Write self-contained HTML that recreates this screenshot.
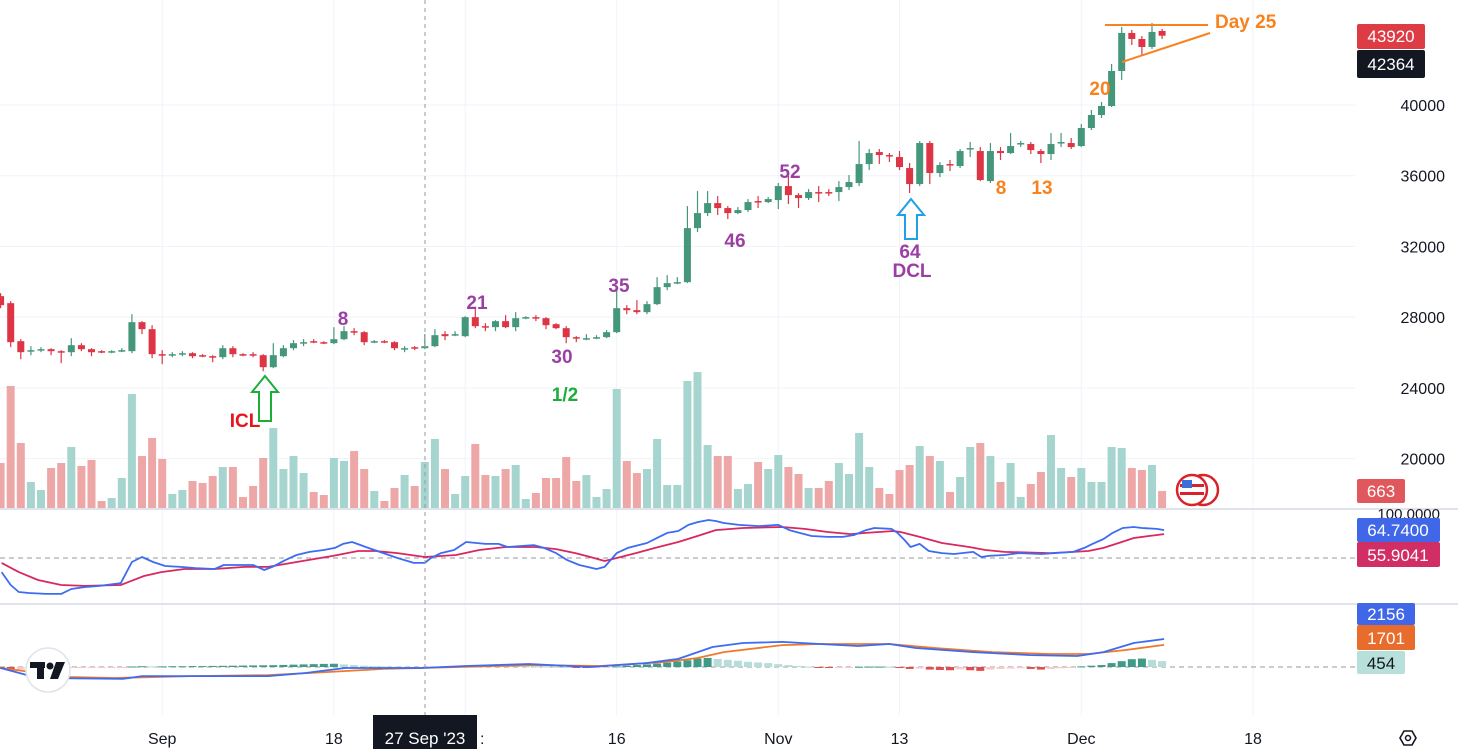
<!DOCTYPE html>
<html><head><meta charset="utf-8"><style>
html,body{margin:0;padding:0;background:#fff;}
svg{display:block;font-family:"Liberation Sans",sans-serif;}
.ann{font-weight:bold;font-size:19px;}
.ax{font-size:16px;fill:#131722;}
</style></head><body>
<svg id="chart" width="1458" height="749" viewBox="0 0 1458 749" xmlns="http://www.w3.org/2000/svg">
<g id="grid"></g>
<g id="vol"></g>
<g id="candles"></g>
<g id="rsi"></g>
<g id="macd"></g>
<g id="axes"></g>

<line x1="425" y1="0" x2="425" y2="715" stroke="#9598a1" stroke-dasharray="4,4" stroke-width="1"/>

<!-- annotations -->
<g>
<text class="ann" x="343" y="325" fill="#9b3fa5" text-anchor="middle">8</text>
<text class="ann" x="477" y="309" fill="#9b3fa5" text-anchor="middle">21</text>
<text class="ann" x="562" y="363" fill="#9b3fa5" text-anchor="middle">30</text>
<text class="ann" x="619" y="292" fill="#9b3fa5" text-anchor="middle">35</text>
<text class="ann" x="735" y="247" fill="#9b3fa5" text-anchor="middle">46</text>
<text class="ann" x="790" y="178" fill="#9b3fa5" text-anchor="middle">52</text>
<text class="ann" x="910" y="258" fill="#9b3fa5" text-anchor="middle">64</text>
<text class="ann" x="912" y="277" fill="#9b3fa5" text-anchor="middle">DCL</text>
<text class="ann" x="565" y="401" fill="#1fad3a" text-anchor="middle">1/2</text>
<text class="ann" x="245" y="427" fill="#e8131b" text-anchor="middle">ICL</text>
<text class="ann" x="1001" y="194" fill="#f7821e" text-anchor="middle">8</text>
<text class="ann" x="1042" y="194" fill="#f7821e" text-anchor="middle">13</text>
<text class="ann" x="1100" y="95" fill="#f7821e" text-anchor="middle">20</text>
<text class="ann" x="1215" y="28" fill="#f7821e">Day 25</text>
<line x1="1105" y1="25" x2="1208" y2="25" stroke="#f7821e" stroke-width="2"/>
<line x1="1122" y1="62" x2="1210" y2="33" stroke="#f7821e" stroke-width="2"/>
<path d="M265,376 L278,392 L271,392 L271,421 L259,421 L259,392 L252,392 Z" fill="none" stroke="#1fad3a" stroke-width="2"/>
<path d="M911,199 L924,215 L917,215 L917,239 L905,239 L905,215 L898,215 Z" fill="none" stroke="#1ea2e6" stroke-width="2"/>
</g>

<!-- flag icon -->
<g>
<circle cx="1203" cy="490" r="15" fill="#fff" stroke="#d8232a" stroke-width="2.5"/>
<circle cx="1192" cy="490" r="15" fill="#fff" stroke="#d8232a" stroke-width="2.5"/>
<rect x="1180" y="484" width="24" height="3" fill="#d8232a"/>
<rect x="1180" y="492" width="24" height="3" fill="#d8232a"/>
<rect x="1182" y="480" width="10" height="8" fill="#3d6fd9"/>
</g>

<!-- TV logo -->
<g>
<circle cx="48" cy="670" r="22" fill="#fff" stroke="#e0e3eb" stroke-width="1.5"/>
<rect x="30" y="662" width="15" height="6" fill="#131722"/>
<rect x="37" y="662" width="7" height="17" fill="#131722"/>
<circle cx="50" cy="666" r="3.5" fill="#131722"/>
<path d="M56,662 L65,662 L58,679 L50,679 Z" fill="#131722"/>
</g>

<!-- price labels -->
<g>
<rect x="1357" y="24" width="68" height="25" rx="2" fill="#dd3c45"/>
<text x="1391" y="42" fill="#fff" font-size="17" text-anchor="middle">43920</text>
<rect x="1357" y="50" width="68" height="28" rx="2" fill="#131722"/>
<text x="1391" y="70" fill="#fff" font-size="17" text-anchor="middle">42364</text>
<rect x="1357" y="479" width="48" height="24" rx="2" fill="#e0575c"/>
<text x="1381" y="497" fill="#fff" font-size="17" text-anchor="middle">663</text>
<text x="1440" y="519" fill="#131722" font-size="15" text-anchor="end">100.0000</text>
<rect x="1357" y="518" width="83" height="24" rx="2" fill="#3f67e8"/>
<text x="1398" y="536" fill="#fff" font-size="17" text-anchor="middle">64.7400</text>
<rect x="1357" y="542" width="83" height="25" rx="2" fill="#d02e65"/>
<text x="1398" y="561" fill="#fff" font-size="17" text-anchor="middle">55.9041</text>
<rect x="1357" y="603" width="58" height="22" rx="2" fill="#3f67e8"/>
<text x="1386" y="620" fill="#fff" font-size="17" text-anchor="middle">2156</text>
<rect x="1357" y="625" width="58" height="25" rx="2" fill="#e86c2c"/>
<text x="1386" y="644" fill="#fff" font-size="17" text-anchor="middle">1701</text>
<rect x="1357" y="651" width="48" height="23" rx="2" fill="#b8e0db"/>
<text x="1381" y="669" fill="#131722" font-size="17" text-anchor="middle">454</text>
</g>

<!-- date label -->
<rect x="373" y="715" width="104" height="34" fill="#131722"/>
<text x="425" y="744" fill="#fff" font-size="17" text-anchor="middle">27 Sep '23</text>
<text x="480" y="744" fill="#131722" font-size="16">:</text>
<path d="M1400,738 l4,-7 h8 l4,7 l-4,7 h-8 z" fill="none" stroke="#131722" stroke-width="1.6"/>
<circle cx="1408" cy="738" r="2.5" fill="none" stroke="#131722" stroke-width="1.5"/>
</svg>
<script>
const NS="http://www.w3.org/2000/svg";
const open=[29189,28792,26642,26076,26132,26189,26076,26019,26415,26189,26076,26019,26076,26076,27717,27321,25906,25849,25906,25962,25849,25793,25736,26245,25906,25906,25849,25170,25793,26245,26528,26642,26585,26528,26755,27208,27151,26585,26642,26585,26189,26302,26245,26359,27038,26981,26925,28000,27490,27434,27774,27434,27943,28000,27943,27604,27377,26868,26755,26811,26868,27151,28509,28396,28283,28736,29698,29924,29981,33037,33886,34452,34170,33886,34057,34566,34509,34622,35415,34905,34735,35075,35075,35075,35358,35585,36660,37339,37169,37056,36434,35528,37849,36151,36660,36547,37509,37396,35698,37396,37282,37792,37792,37396,37226,37849,37849,37679,38698,39434,39943,41924,44075,43735,43283,44188];
const close=[28679,26585,26019,26132,26189,26076,26019,26415,26189,26019,26019,26076,26132,27717,27321,25906,25849,25906,25962,25793,25793,25736,26245,25906,25849,25849,25170,25849,26245,26528,26585,26585,26528,26755,27208,27151,26585,26642,26585,26245,26245,26245,26359,26981,26925,27038,28000,27490,27434,27774,27434,27943,28000,27943,27547,27377,26868,26811,26811,26868,27151,28509,28396,28283,28736,29698,29924,29981,33037,33886,34452,34170,33886,34057,34509,34509,34679,35415,34905,34735,35075,35019,35019,35358,35641,36660,37282,37169,37113,36490,35528,37849,36151,36604,36604,37396,37566,35755,37396,37282,37679,37849,37452,37226,37792,37905,37622,38698,39434,39943,41924,44075,43735,43283,44132,43920];
const high=[29358,28906,26755,26359,26302,26245,26132,26811,26528,26245,26132,26132,26245,28170,27774,27547,26132,26019,26076,26019,25906,25849,26415,26359,25962,26019,25906,26528,26415,26698,26755,26755,26642,27434,27490,27377,27208,26698,26698,26642,26359,26359,27038,27321,27208,27208,28057,28509,27660,27830,28113,28283,28057,28113,28000,27660,27490,26925,27038,26981,27264,29641,28679,28962,28906,30264,30377,30264,34283,35132,35132,34849,34283,34226,34679,34849,34792,35585,35981,35019,35245,35415,35245,35698,36037,37962,37509,37509,37282,37396,36717,37962,37962,36774,36886,37509,37905,37622,37849,37622,38415,37962,37905,37509,38415,38415,38132,38924,39717,40170,42320,44415,44245,43905,44641,44302];
const low=[28509,26302,25623,25849,26019,25849,25396,25793,26076,25793,25962,25962,26019,25962,27038,25679,25340,25736,25793,25679,25736,25453,25623,25736,25793,25736,24944,25113,25736,26132,26359,26528,26472,26472,26698,26981,26415,26528,26528,26132,26019,26132,26189,26302,26698,26925,26868,27377,27208,27208,27377,27208,27887,27774,27321,27321,26528,26585,26698,26755,26811,27094,28170,28170,28170,28679,29528,29868,29924,32811,33717,33774,33547,33830,33943,34170,34452,34113,34396,34170,34622,34509,34849,34566,35188,35415,36321,36660,36774,36321,35019,35415,35528,35924,36264,36434,37056,35698,35585,36886,37226,37622,37226,36717,36886,37622,37509,37622,38585,39264,39887,41415,43396,42830,43170,43735];
const volume=[45,122,65,26,18,40,45,61,42,48,7,10,30,114,52,70,49,14,18,27,25,32,41,41,11,22,50,80,39,52,35,16,13,50,47,57,39,17,7,20,33,22,46,69,39,14,32,64,33,32,39,43,9,15,30,30,51,27,33,11,19,119,47,35,39,69,23,23,127,136,63,52,52,19,24,46,39,53,41,34,20,20,27,45,34,75,41,20,14,38,43,62,52,47,16,31,61,65,52,26,45,11,24,36,73,40,31,40,26,26,61,60,40,38,43,17];
const oscK=[[0.1,42.6],[1,35.8],[1.8,32.1],[2.8,31.6],[4.5,31.1],[6,31.1],[7,33.7],[8.3,34.7],[9.8,35.3],[11.9,36.8],[13,47.9],[14,50.5],[15.1,47.9],[16.3,45.8],[17.8,45.3],[19.3,44.7],[21.2,44.2],[22.1,46.3],[25,46.3],[26.1,43.7],[26.9,45.3],[28.2,48.9],[29.3,51.6],[30.6,53.2],[32,54.2],[33.1,55.3],[33.9,57.4],[34.8,58.4],[36.4,55.3],[37.9,52.6],[39.3,50],[40.9,47.4],[42,47.4],[42.6,50],[43.6,52.6],[44.9,54.2],[46.1,58.4],[48,57.4],[49.3,57.4],[50.2,55.8],[51.5,56.3],[52.8,56.8],[53.8,55.3],[55,52.6],[56.1,48.9],[57.3,46.3],[59,44.2],[59.8,45.3],[61,52.6],[62.1,55.3],[64,57.9],[65.2,61.1],[66,63.2],[67.1,64.2],[68.1,67.4],[69,68.9],[70.1,70],[70.8,69.5],[71.6,68.4],[73.1,67.4],[75.1,66.8],[77,67.4],[78.1,64.7],[79.1,63.2],[80.3,61.6],[81.9,61.1],[83.4,61.1],[84.5,62.1],[85.7,64.7],[86.5,65.8],[88.2,65.3],[88.8,63.2],[89.5,59.5],[90.1,55.8],[91,57.4],[91.9,53.7],[93.2,52.6],[94.4,52.1],[96.3,53.2],[97.1,50.5],[97.8,51.1],[99.4,51.6],[100.8,52.6],[103.1,52.1],[106.2,53.2],[107.3,55.3],[108.1,57.4],[109.2,60],[110.1,63.2],[111.1,65.8],[112.2,66.3],[113,65.8],[114.5,65.3],[115.2,64.7]];
const oscD=[[0.1,47.4],[1.8,42.6],[3.7,38.4],[6,35.8],[8.3,35.3],[11.9,35.8],[14.2,40.5],[15.9,42.6],[18.2,44.2],[21.2,44.2],[24.2,45.3],[26.5,45.3],[28.8,47.4],[32.9,51.1],[35.4,53.7],[37.1,53.7],[39.3,52.6],[42,50.5],[45.1,51.6],[47.4,54.2],[50,55.8],[53,55.8],[55,54.7],[56.9,52.6],[58.4,50.5],[59.8,48.4],[61,50],[62.9,52.6],[64.8,55.3],[67.1,58.4],[69,61.6],[70.8,64.7],[73.5,65.8],[77.4,66.3],[79.6,65.3],[81.9,63.7],[84.2,62.6],[85.7,63.2],[88.4,64.2],[89.1,63.7],[91,61.1],[93.2,57.9],[95.9,55.8],[97.5,54.2],[99.4,53.2],[103.9,52.6],[106.2,53.2],[107.7,53.7],[109.2,55.3],[110.7,57.9],[112.2,60.5],[113.7,61.6],[115.2,62.6]];
const macdLine=[[0,-77],[3.7,-850],[12.1,-920],[14,-700],[26.5,-700],[30.2,-460],[34.1,-77],[41.6,-77],[46.1,77],[52.3,230],[58.4,0],[64,310],[67.1,620],[70.5,1540],[73.5,1850],[77.4,1930],[81.1,1770],[84.9,1620],[88,1770],[90.6,1460],[96.3,1150],[102,920],[106.6,850],[109.2,1150],[112.2,1850],[115.2,2156]];
const signalLine=[[0,-77],[6.8,-770],[11.3,-850],[19,-700],[26.5,-620],[32.2,-390],[37.9,-150],[41.6,-77],[45.5,0],[53,150],[59.4,77],[66,390],[69,690],[71.6,1150],[77.4,1690],[81.1,1770],[88,1770],[92.5,1460],[98.2,1150],[103.9,1000],[107.7,1000],[111.4,1310],[115.2,1701]];
const hist=[-150,-200,-200,-180,-150,-120,-100,-80,-60,-50,-40,-30,-20,40,60,50,50,60,60,70,70,80,90,100,110,120,130,140,160,180,200,220,240,250,200,150,100,60,40,20,10,0,0,30,50,70,80,90,100,90,80,70,60,50,40,20,10,-20,-40,-40,-30,50,100,150,200,260,330,420,520,650,700,620,550,480,400,350,300,220,150,80,30,-20,-30,-30,-20,20,30,30,20,-80,-150,-120,-200,-230,-250,-180,-250,-300,-200,-150,-120,-100,-150,-200,-150,-100,-50,50,100,150,300,450,600,650,550,454];
const priceTicks=[40000,36000,32000,28000,24000,20000];
const timeTicks=[[16,"Sep"],[33,"18"],[61,"16"],[77,"Nov"],[89,"13"],[107,"Dec"],[124,"18"]];
const gridDays=[16,33,46,61,77,89,107,124];

const X=i=>0.6+10.1*i;
const Y=p=>105+(40000-p)*0.01768;
const VY=v=>508-v;
const OY=v=>558-(v-50)*1.9;
const MY=v=>667-v/77;

function mk(tag,attrs,parent){const e=document.createElementNS(NS,tag);for(const k in attrs)e.setAttribute(k,attrs[k]);document.getElementById(parent).appendChild(e);return e;}

// grid
priceTicks.forEach(p=>{const l=mk('line',{x1:0,x2:1355,y1:Y(p),y2:Y(p),stroke:'#f0f3fa','stroke-width':1},'grid');

});
gridDays.forEach(d=>{const l=mk('line',{x1:X(d),x2:X(d),y1:0,y2:715,stroke:'#f0f3fa','stroke-width':1},'grid');

});
[509,604].forEach(y=>{const l=mk('line',{x1:0,x2:1458,y1:y,y2:y,stroke:'#e0e3eb','stroke-width':2},'grid');

});
[558,667].forEach(y=>{const l=mk('line',{x1:0,x2:1355,y1:y,y2:y,stroke:'#9598a1','stroke-dasharray':'5,4','stroke-width':1},'grid');

});

// volume
volume.forEach((v,i)=>{const up=close[i]>=open[i];
const r=mk('rect',{x:X(i)-4,y:VY(v),width:8,height:v,fill:up?'#a6d5d0':'#eea7a7'},'vol');

});

// candles
open.forEach((o,i)=>{const c=close[i],up=c>=o,col=up?'#45977b':'#dd3545';
const w=mk('line',{x1:X(i),x2:X(i),y1:Y(high[i]),y2:Y(low[i]),stroke:col,'stroke-width':1.2},'candles');


const top=Y(Math.max(o,c)),h=Math.max(1.5,Math.abs(Y(o)-Y(c)));
const b=mk('rect',{x:X(i)-3.5,y:top,width:7,height:h,fill:col},'candles');

});

function poly(arr,fy,col,parent,name){const pts=arr.map(a=>X(a[0]).toFixed(1)+','+fy(a[1]).toFixed(1)).join(' ');
const p=mk('polyline',{points:pts,fill:'none',stroke:col,'stroke-width':1.8,'stroke-linejoin':'round'},parent);

}
poly(oscD,OY,'#d9285f','rsi','osc-d-line');
poly(oscK,OY,'#3d6bf2','rsi','osc-k-line');

// histogram
hist.forEach((v,i)=>{const prev=i>0?hist[i-1]:0;let col;
if(v>=0)col=v>=prev?'#3f9a88':'#b6ddd8';else col=v<prev?'#e74c4c':'#f8c9cc';
const y0=MY(0),y1=MY(v);
const r=mk('rect',{x:X(i)-4,y:Math.min(y0,y1),width:8,height:Math.max(1,Math.abs(y1-y0)),fill:col},'macd');

});
poly(signalLine,MY,'#f0782a','macd','macd-signal-line');
poly(macdLine,MY,'#3d6bf2','macd','macd-line');

// axes labels
priceTicks.forEach(p=>{const t=mk('text',{x:1445,y:Y(p)+6,'text-anchor':'end',class:'ax','font-size':17},'axes');
t.textContent=p;

});
timeTicks.forEach(tk=>{const t=mk('text',{x:X(tk[0]),y:744,'text-anchor':'middle',class:'ax','font-size':17},'axes');
t.textContent=tk[1];

});
</script>
</body></html>
